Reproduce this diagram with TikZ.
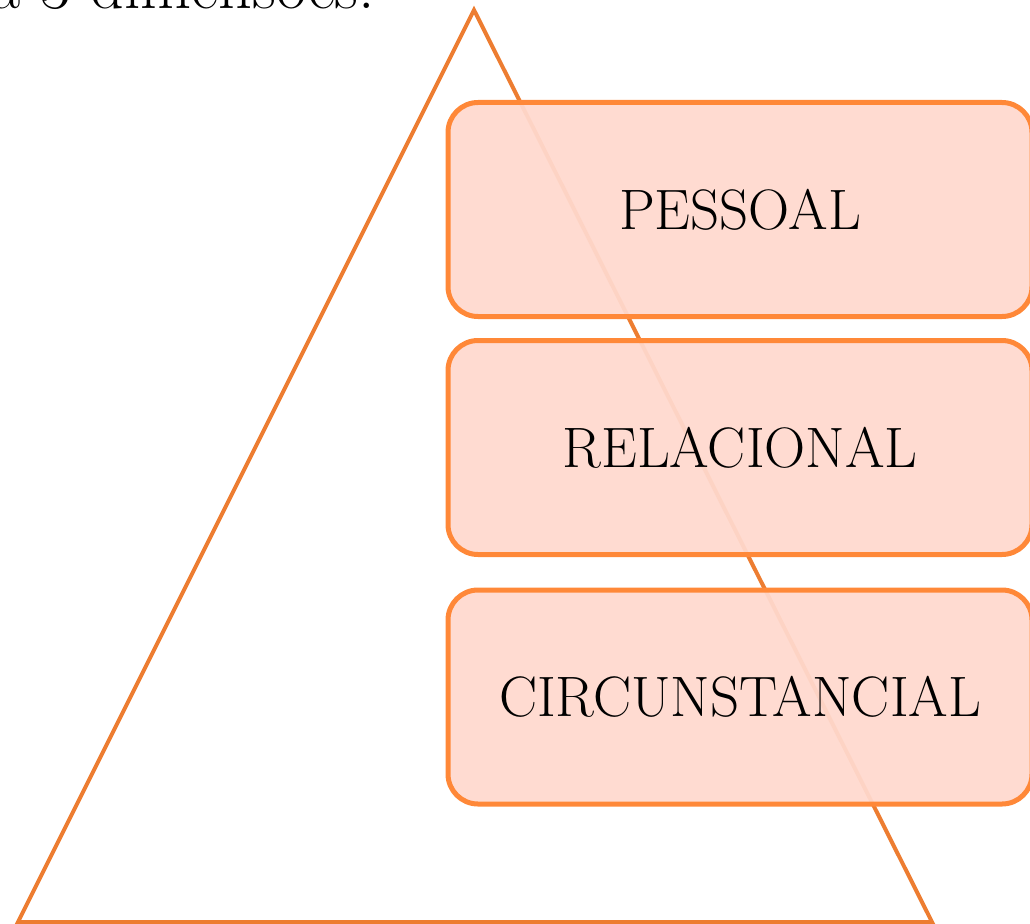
\documentclass[tikz,border=0pt]{standalone}
\usepackage{fontspec}
\definecolor{triorange}{RGB}{237,125,49}
\definecolor{boxline}{RGB}{255,136,56}
\definecolor{boxfill}{RGB}{255,217,206}
\begin{document}
\begin{tikzpicture}[x=1pt,y=-1pt,
  dimbox/.style={draw=boxline, line width=5pt, fill=boxfill, fill opacity=0.94, text opacity=1,
    rounded corners=30pt, minimum width=584pt, minimum height=214pt, inner sep=0pt,
    font=\fontsize{57}{64}\selectfont, text=black},
  tri/.style={draw=triorange, line width=4pt, line join=miter}]
\useasboundingbox (0,0) rectangle (1030,923);
\clip (0,0) rectangle (1030,923);
\node[anchor=base west, inner sep=0pt, font=\fontsize{66}{70}\selectfont] (title) at (-10,9) {a 3 dimensões.};
\coordinate (apex) at (474,10);
\coordinate (bl) at (18,922);
\coordinate (br) at (932,922);
\draw[tri] (apex) -- (br) -- (bl) -- cycle;
\node[dimbox] (pessoal) at (740,209.5) {PESSOAL};
\node[dimbox] (relacional) at (740,447.5) {RELACIONAL};
\node[dimbox] (circ) at (740,697) {CIRCUNSTANCIAL};
\end{tikzpicture}
\end{document}
